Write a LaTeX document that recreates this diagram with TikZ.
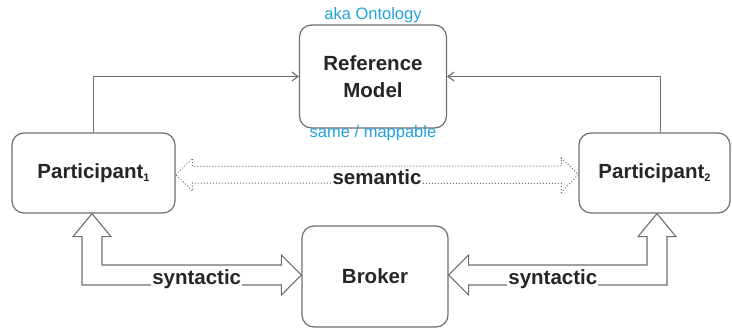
\documentclass[tikz,border=0pt]{standalone}
\usepackage{fontspec}
\setmainfont{Liberation Sans}
\usetikzlibrary{calc,arrows.meta}
\definecolor{edge}{HTML}{6E6E6E}
\definecolor{ink}{HTML}{262626}
\definecolor{note}{HTML}{22A2DA}
\newcommand{\lowsub}[1]{\raisebox{-3.5pt}{\fontsize{11}{11}\selectfont #1}}
\begin{document}
\begin{tikzpicture}[x=1pt,y=-1pt,
  box/.style={draw=edge,line width=1.2pt,rounded corners=12pt,fill=white,
    text=ink,font=\fontsize{20.5}{27}\selectfont\bfseries,align=center,inner sep=0pt},
  conn/.style={draw=edge,line width=1.1pt,-{Straight Barb[length=6pt,width=9pt]}},
  hollow/.style={draw=edge,line width=1.1pt,fill=white,line join=miter},
  dotarrow/.style={draw=edge,line width=1pt,dotted,fill=white},
  lbl/.style={text=ink,font=\fontsize{20.5}{22}\selectfont\bfseries,inner sep=1pt,fill=white},
  notetext/.style={text=note,font=\fontsize{16.5}{18}\selectfont,inner sep=0pt}]
\useasboundingbox (0,0) rectangle (732,331);

% boxes
\node[box,minimum width=147pt,minimum height=103pt] (ref) at (373,76.5) {Reference\\Model};
\node[box,minimum width=163pt,minimum height=80pt] (p1) at (93.5,173) {Participant\lowsub{1}};
\node[box,minimum width=151pt,minimum height=80pt] (p2) at (654.5,173) {Participant\lowsub{2}};
\node[box,minimum width=146pt,minimum height=101pt] (broker) at (375,276.5) {Broker};

% notes on the reference model
\node[notetext] (aka) at (ref.north) [yshift=9pt] {aka Ontology};
\node[notetext] (same) at (ref.south) [yshift=-5pt] {same / mappable};

% participants point at the shared reference model
\draw[conn] (p1.north) |- (ref.west);
\draw[conn] ([xshift=6pt]p2.north) |- (ref.east);

% semantic link: dotted hollow double arrow
\path[dotarrow]
  ($(p1.east)+(0,1.5)$) -- ++(17,-16) -- ++(0,8) -- ($(p2.west)+(-17,-7)$)
  -- ++(0,-8) -- ($(p2.west)+(0,1.5)$) -- ++(-17,18) -- ++(0,-9)
  -- ($(p1.east)+(17,10)$) -- ++(0,8) -- cycle;
\node[lbl] (sem) at ($(p1.east)!0.5!(p2.west)+(0,4)$) {semantic};

% syntactic links: hollow L-shaped double arrows through the broker
\coordinate (s1) at ([xshift=-1.5pt]p1.south);
\coordinate (e1) at ([yshift=1.5pt]broker.west);
\path[hollow]
  (s1) -- ($(s1)+(19,23)$) -- ($(s1)+(10,23)$) -- ($(s1|-e1)+(10,-10)$)
  -- ($(e1)+(-20,-10)$) -- ($(e1)+(-20,-20)$) -- (e1) -- ($(e1)+(-20,20)$)
  -- ($(e1)+(-20,10)$) -- ($(s1|-e1)+(-10,10)$) -- ($(s1)+(-10,23)$)
  -- ($(s1)+(-19,23)$) -- cycle;
\node[lbl] (syn1) at ($(s1|-e1)!0.5!(e1)+(0,4)$) {syntactic};

\coordinate (s2) at ([xshift=2.5pt]p2.south);
\coordinate (e2) at ([yshift=1.5pt]broker.east);
\path[hollow]
  (s2) -- ($(s2)+(-19,23)$) -- ($(s2)+(-10,23)$) -- ($(s2|-e2)+(-10,-10)$)
  -- ($(e2)+(20,-10)$) -- ($(e2)+(20,-20)$) -- (e2) -- ($(e2)+(20,20)$)
  -- ($(e2)+(20,10)$) -- ($(s2|-e2)+(10,10)$) -- ($(s2)+(10,23)$)
  -- ($(s2)+(19,23)$) -- cycle;
\node[lbl] (syn2) at ($(s2|-e2)!0.5!(e2)+(0,4)$) {syntactic};
\end{tikzpicture}
\end{document}
